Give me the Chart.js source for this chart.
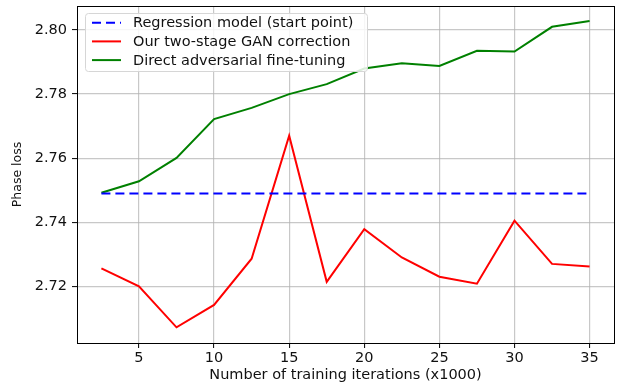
<!DOCTYPE html>
<html>
<head>
<meta charset="utf-8">
<script src="https://cdn.jsdelivr.net/npm/chart.js@4/dist/chart.umd.min.js"></script>
<style>
  html, body { margin: 0; padding: 0; background: #fff; }
  #c { display: block; }
</style>
</head>
<body>
<canvas id="c" width="618" height="389"></canvas>
<script>
// Training iterations (x1000) at which each model was evaluated
const iterations = [2.5, 5, 7.5, 10, 12.5, 15, 17.5, 20, 22.5, 25, 27.5, 30, 32.5, 35];

// Phase loss per evaluation point
const regressionLoss = [2.749, 2.749, 2.749, 2.749, 2.749, 2.749, 2.749, 2.749, 2.749, 2.749, 2.749, 2.749, 2.749, 2.749];
const twoStageLoss   = [2.7256, 2.7200, 2.7072, 2.7142, 2.7286, 2.7670, 2.7214, 2.7378, 2.7290, 2.7230, 2.7208, 2.7405, 2.7270, 2.7262];
const directLoss     = [2.7492, 2.7528, 2.7601, 2.7722, 2.7757, 2.7800, 2.7831, 2.7880, 2.7896, 2.7888, 2.7935, 2.7933, 2.8010, 2.8028];

// Axis ticks
const xTicks = [5, 10, 15, 20, 25, 30, 35];
const yTicks = [2.72, 2.74, 2.76, 2.78, 2.80];

const seriesLabels = [
  'Regression model (start point)',
  'Our two-stage GAN correction',
  'Direct adversarial fine-tuning'
];

const FONT = 'DejaVu Sans';
const TEXT = '#111';
const SIZE = 14.5;

const toPoints = ys => iterations.map((x, i) => ({ x: x, y: ys[i] }));

// Black frame around the plotting area
const framePlugin = {
  id: 'frame',
  afterDraw(chart) {
    const { ctx, chartArea: a } = chart;
    ctx.save();
    ctx.strokeStyle = '#000';
    ctx.lineWidth = 1;
    ctx.strokeRect(Math.round(a.left) + 0.5, Math.round(a.top) + 0.5,
                   Math.round(a.right - a.left), Math.round(a.bottom - a.top));
    ctx.restore();
  }
};

// Legend box drawn in the upper-left corner of the plot
const insideLegend = {
  id: 'insideLegend',
  afterDatasetsDraw(chart) {
    const { ctx, chartArea: a } = chart;
    const x0 = a.left + 8, y0 = a.top + 7;
    const w = 282, h = 58, r = 3;
    ctx.save();
    ctx.beginPath();
    ctx.roundRect(x0 + 0.5, y0 + 0.5, w, h, r);
    ctx.fillStyle = 'rgba(255,255,255,0.85)';
    ctx.fill();
    ctx.strokeStyle = '#d6d6d6';
    ctx.lineWidth = 1;
    ctx.stroke();
    ctx.font = SIZE + 'px "' + FONT + '"';
    ctx.textBaseline = 'middle';
    ctx.textAlign = 'left';
    chart.data.datasets.forEach((ds, i) => {
      const yy = y0 + 9.7 + i * 18.7;
      ctx.beginPath();
      ctx.setLineDash(ds.borderDash || []);
      ctx.strokeStyle = ds.borderColor;
      ctx.lineWidth = ds.borderWidth;
      ctx.moveTo(x0 + 7, yy);
      ctx.lineTo(x0 + 36, yy);
      ctx.stroke();
      ctx.setLineDash([]);
      ctx.fillStyle = TEXT;
      ctx.fillText(ds.label, x0 + 48, yy + 1);
    });
    ctx.restore();
  }
};

new Chart(document.getElementById('c'), {
  type: 'line',
  data: {
    datasets: [
      {
        label: seriesLabels[0],
        data: toPoints(regressionLoss),
        borderColor: '#0000ff',
        borderWidth: 2,
        borderDash: [9, 5],
        pointRadius: 0,
        tension: 0,
        fill: false
      },
      {
        label: seriesLabels[1],
        data: toPoints(twoStageLoss),
        borderColor: '#ff0000',
        borderWidth: 2,
        pointRadius: 0,
        tension: 0,
        fill: false
      },
      {
        label: seriesLabels[2],
        data: toPoints(directLoss),
        borderColor: '#008000',
        borderWidth: 2,
        pointRadius: 0,
        tension: 0,
        fill: false
      }
    ]
  },
  options: {
    responsive: false,
    animation: false,
    devicePixelRatio: 1,
    layout: { padding: { top: 6, right: 4, left: 0, bottom: 0 } },
    plugins: {
      legend: { display: false },
      tooltip: { enabled: false }
    },
    scales: {
      x: {
        type: 'linear',
        min: 0.875,
        max: 36.625,
        afterFit(s) { s.height = 46; s.paddingLeft = 0; s.paddingRight = 0; },
        afterBuildTicks(s) { s.ticks = xTicks.map(v => ({ value: v })); },
        grid: {
          color: 'rgba(176,176,176,0.7)',
          lineWidth: 1.2,
          tickColor: '#000',
          tickWidth: 1,
          tickLength: 5
        },
        border: { display: true, color: '#000', width: 1 },
        ticks: {
          color: TEXT,
          font: { family: FONT, size: SIZE },
          padding: 2,
          maxRotation: 0,
          callback: v => String(v)
        },
        title: {
          display: true,
          text: 'Number of training iterations (x1000)',
          color: TEXT,
          font: { family: FONT, size: SIZE },
          padding: { top: 0, bottom: 5 }
        }
      },
      y: {
        type: 'linear',
        min: 2.7023,
        max: 2.8075,
        afterFit(s) { s.width = 77; s.paddingTop = 0; s.paddingBottom = 0; },
        afterBuildTicks(s) { s.ticks = yTicks.map(v => ({ value: v })); },
        grid: {
          color: 'rgba(176,176,176,0.7)',
          lineWidth: 1.2,
          tickColor: '#000',
          tickWidth: 1,
          tickLength: 5
        },
        border: { display: true, color: '#000', width: 1 },
        ticks: {
          color: TEXT,
          font: { family: FONT, size: SIZE },
          padding: 5,
          callback: v => Number(v).toFixed(2)
        },
        title: {
          display: true,
          text: 'Phase loss',
          color: TEXT,
          font: { family: FONT, size: 12.5 },
          padding: { top: 10, bottom: 0 }
        }
      }
    }
  },
  plugins: [framePlugin, insideLegend]
});
</script>
</body>
</html>
